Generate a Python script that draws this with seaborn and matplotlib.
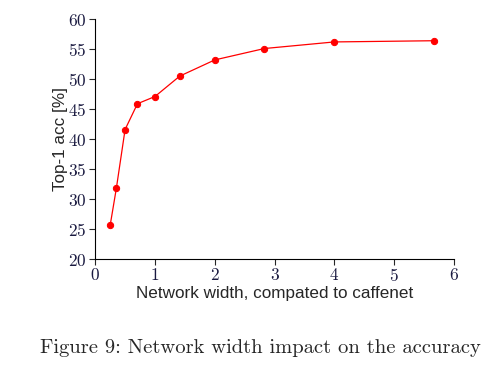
import pandas as pd
import seaborn as sns
import matplotlib.pyplot as plt

sns.set_theme(style='ticks')
plt.rcParams['font.family'] = ['Liberation Sans', 'DejaVu Sans']
plt.rcParams['axes.formatter.use_mathtext'] = True

# width multiplier vs top-1 accuracy
width = [0.25, 0.354, 0.5, 0.707, 1.0, 1.414, 2.0, 2.83, 4.0, 5.66]
top1_acc = [25.6, 31.8, 41.6, 45.9, 47.1, 50.5, 53.2, 55.1, 56.2, 56.4]
x_ticks = [0, 1, 2, 3, 4, 5, 6]
y_ticks = [20, 25, 30, 35, 40, 45, 50, 55, 60]

df = pd.DataFrame({'width': width, 'acc': top1_acc})

fig = plt.figure(figsize=(5.01, 3.68), dpi=100)
ax = fig.add_axes([0.19, 0.296, 0.716, 0.652])

sns.lineplot(data=df, x='width', y='acc', ax=ax, color='#ff0000',
             linewidth=0.9, marker='o', markersize=4.5,
             markeredgecolor='#ff0000', markerfacecolor='#ff0000')

ax.set_xlim(0, 6)
ax.set_ylim(20, 60)
ax.set_xticks(x_ticks)
ax.set_yticks(y_ticks)
for lab in ax.get_xticklabels() + ax.get_yticklabels():
    lab.set_fontfamily('cmr10')
    lab.set_fontsize(12.5)
    lab.set_color('#1a1a40')
ax.tick_params(direction='out', length=4, width=0.8, pad=2)
sns.despine(ax=ax)
for s in ax.spines.values():
    s.set_linewidth(0.8)
    s.set_color('black')

ax.set_xlabel('Network width, compated to caffenet', fontsize=12.3, labelpad=1)
ax.set_ylabel('Top-1 acc [%]', fontsize=12.3, labelpad=0)

fig.text(0.52, 0.055, 'Figure 9: Network width impact on the accuracy',
         ha='center', va='center', fontsize=14.8, family='cmr10')

fig.savefig('out.png', dpi=100)
